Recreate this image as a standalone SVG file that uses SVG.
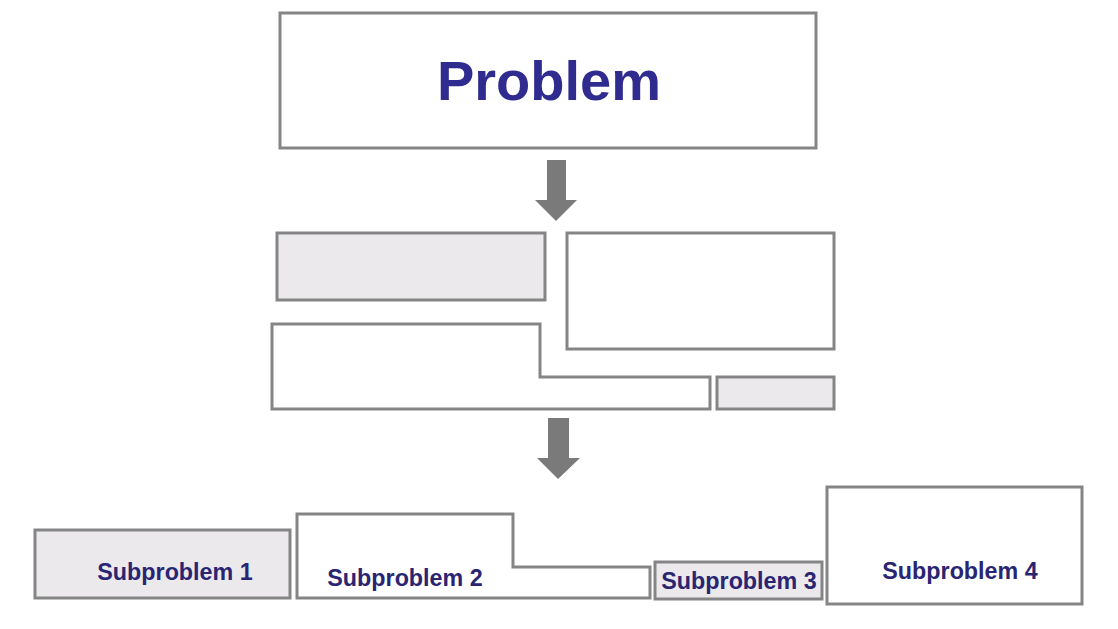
<svg xmlns="http://www.w3.org/2000/svg" width="1118" height="629" viewBox="0 0 1118 629">
<style>
.box{stroke:#858585;stroke-width:3;fill:#ffffff}
.gray{fill:#ebe9ec}
.arrow{fill:#7a7a7a}
.lbl{font-family:"Liberation Sans",Arial,sans-serif;font-weight:bold;fill:#2a2572;text-anchor:middle;font-size:23.3px}
.title{font-family:"Liberation Sans",Arial,sans-serif;font-weight:bold;fill:#302b8f;text-anchor:middle;font-size:56px}
</style>
<rect width="1118" height="629" fill="#ffffff"/>
<g id="problem">
<rect class="box" x="280" y="13" width="536" height="135"/>
<text class="title" x="549" y="100">Problem</text>
</g>
<g id="piece-a"><rect class="box gray" x="277" y="233" width="268" height="67"/></g>
<g id="piece-b"><rect class="box" x="567" y="233" width="267" height="116"/></g>
<g id="piece-c"><path class="box" d="M272 324 H540 V377 H710 V409 H272 Z"/></g>
<g id="piece-d"><rect class="box gray" x="717" y="377" width="117" height="32"/></g>
<g id="sub1">
<rect class="box gray" x="35" y="530" width="255" height="68"/>
<text class="lbl" x="175" y="580">Subproblem 1</text>
</g>
<g id="sub2">
<path class="box" d="M297 514 H513 V567 H650 V598 H297 Z"/>
<text class="lbl" x="405" y="586">Subproblem 2</text>
</g>
<g id="sub3">
<rect class="box gray" x="655" y="562" width="167" height="37"/>
<text class="lbl" x="739" y="589">Subproblem 3</text>
</g>
<g id="sub4">
<rect class="box" x="827" y="487" width="255" height="117"/>
<text class="lbl" x="960" y="579">Subproblem 4</text>
</g>
<g id="connectors">
<polygon class="arrow" points="547,160 566,160 566,200 577,200 556,221 535,200 547,200"/>
<polygon class="arrow" points="548,418 569,418 569,458 580,458 558,479 537,458 548,458"/>
</g>
</svg>
